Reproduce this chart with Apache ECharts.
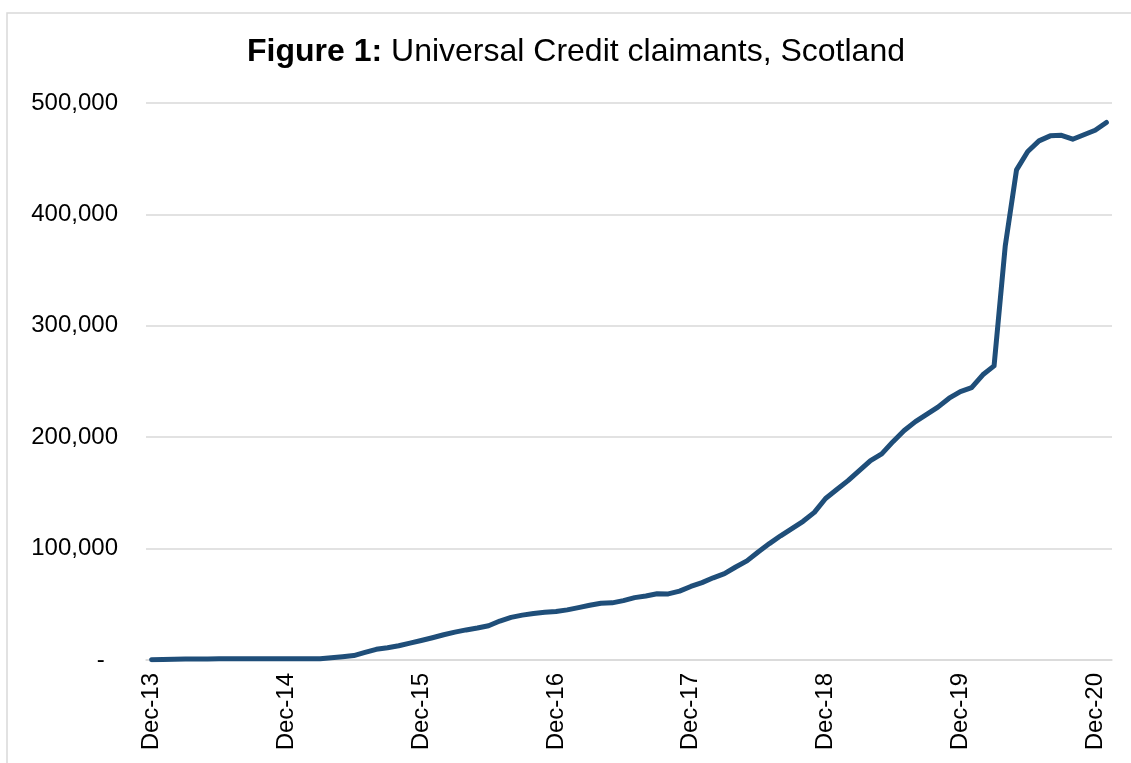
<!DOCTYPE html>
<html>
<head>
<meta charset="utf-8">
<script src="https://cdn.jsdelivr.net/npm/echarts@6/dist/echarts.min.js"></script>
<style>
  html, body { margin: 0; padding: 0; background: #ffffff; }
  #chart { width: 1131px; height: 763px; }
</style>
</head>
<body>
<div id="chart"></div>
<script>
// Monthly categories, Dec 2013 to Jan 2021
const months = [
  'Dec-13',
  'Jan-14','Feb-14','Mar-14','Apr-14','May-14','Jun-14','Jul-14','Aug-14','Sep-14','Oct-14','Nov-14','Dec-14',
  'Jan-15','Feb-15','Mar-15','Apr-15','May-15','Jun-15','Jul-15','Aug-15','Sep-15','Oct-15','Nov-15','Dec-15',
  'Jan-16','Feb-16','Mar-16','Apr-16','May-16','Jun-16','Jul-16','Aug-16','Sep-16','Oct-16','Nov-16','Dec-16',
  'Jan-17','Feb-17','Mar-17','Apr-17','May-17','Jun-17','Jul-17','Aug-17','Sep-17','Oct-17','Nov-17','Dec-17',
  'Jan-18','Feb-18','Mar-18','Apr-18','May-18','Jun-18','Jul-18','Aug-18','Sep-18','Oct-18','Nov-18','Dec-18',
  'Jan-19','Feb-19','Mar-19','Apr-19','May-19','Jun-19','Jul-19','Aug-19','Sep-19','Oct-19','Nov-19','Dec-19',
  'Jan-20','Feb-20','Mar-20','Apr-20','May-20','Jun-20','Jul-20','Aug-20','Sep-20','Oct-20','Nov-20','Dec-20',
  'Jan-21'
];

// Universal Credit claimants in Scotland, per month
const claimants = [
  300,
  400, 600, 900, 1000, 1000, 1100, 1100, 1100, 1100, 1100, 1100, 1100,
  1100, 1100, 1200, 2000, 2900, 4000, 6800, 9600, 11000, 12800, 15200, 17500,
  20000, 22700, 25000, 27000, 28700, 30800, 35000, 38300, 40300, 41800, 42800, 43600,
  45000, 47000, 49200, 51000, 51300, 53300, 56000, 57500, 59400, 59300, 61800, 66000,
  69500, 73800, 77500, 83500, 89000, 97000, 104500, 111500, 118000, 124500, 132500, 145000,
  153000, 161000, 170000, 179000, 185000, 196000, 206000, 214000, 220500, 227000, 235000, 241000,
  244500, 256000, 264000, 372000, 440000, 456500, 466000, 470500, 471000, 467500, 471500, 475500,
  482500
];

// Value axis ticks
const yTicks = [0, 100000, 200000, 300000, 400000, 500000];

const titleBold = 'Figure 1: ';
const titleRest = 'Universal Credit claimants, Scotland';

const FONT = '"Liberation Sans", Arial, sans-serif';

const chart = echarts.init(document.getElementById('chart'), null, { renderer: 'canvas' });

chart.setOption({
  backgroundColor: '#ffffff',
  animation: false,
  graphic: [
    {
      type: 'rect',
      shape: { x: 7, y: 13, width: 1200, height: 800 },
      style: { fill: 'none', stroke: '#d9d9d9', lineWidth: 1.5 },
      silent: true
    },
    {
      type: 'text',
      x: 576,
      y: 52,
      style: {
        text: '{b|' + titleBold + '}{r|' + titleRest + '}',
        align: 'center',
        verticalAlign: 'middle',
        fill: '#000000',
        rich: {
          b: { fontFamily: FONT, fontSize: 32, fontWeight: 'bold', fill: '#000000' },
          r: { fontFamily: FONT, fontSize: 32, fontWeight: 'normal', fill: '#000000' }
        }
      }
    }
  ],
  grid: {
    left: 146,
    right: 19,
    top: 103,
    bottom: 103,
    containLabel: false
  },
  xAxis: {
    type: 'category',
    data: months,
    boundaryGap: true,
    axisLine: { show: true, lineStyle: { color: '#d9d9d9', width: 1.5 } },
    axisTick: { show: false },
    axisLabel: {
      interval: 11,
      rotate: 90,
      margin: 13,
      fontFamily: FONT,
      fontSize: 24,
      color: '#000000'
    },
    splitLine: { show: false }
  },
  yAxis: {
    type: 'value',
    min: yTicks[0],
    max: yTicks[yTicks.length - 1],
    interval: yTicks[1] - yTicks[0],
    axisLine: { show: false },
    axisTick: { show: false },
    axisLabel: {
      margin: 28,
      fontFamily: FONT,
      fontSize: 24,
      color: '#000000',
      formatter: function (v) {
        if (v === 0) return '-  ';
        return v.toLocaleString('en-GB');
      }
    },
    splitLine: { show: true, lineStyle: { color: '#d9d9d9', width: 1.5 } }
  },
  series: [
    {
      type: 'line',
      data: claimants,
      symbol: 'none',
      smooth: false,
      lineStyle: { color: '#1f4e79', width: 5, cap: 'round', join: 'round' },
      itemStyle: { color: '#1f4e79' }
    }
  ]
});
</script>
</body>
</html>
